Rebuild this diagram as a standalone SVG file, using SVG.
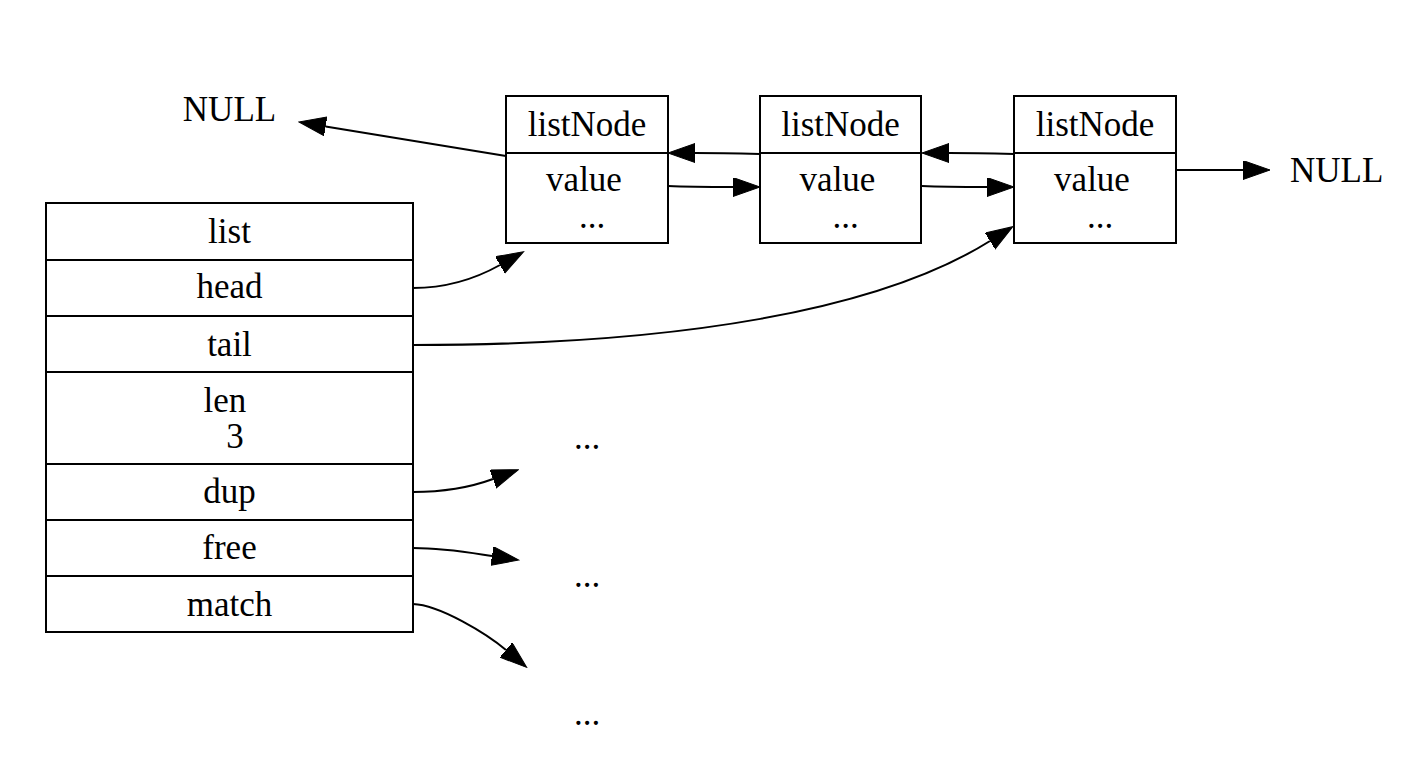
<svg xmlns="http://www.w3.org/2000/svg" width="1418" height="776" viewBox="0 0 1418 776">
<style>
  .box { fill: #ffffff; stroke: #000000; stroke-width: 2; }
  .div { stroke: #000000; stroke-width: 2; fill: none; }
  .t { font-family: "Liberation Serif", "Times New Roman", serif; font-size: 35px; fill: #000000; text-anchor: middle; }
  .tl { font-family: "Liberation Serif", "Times New Roman", serif; font-size: 35px; fill: #000000; text-anchor: start; }
  .edge { fill: none; stroke: #000000; stroke-width: 2; marker-end: url(#arrow); }
</style>
<defs>
  <marker id="arrow" markerUnits="userSpaceOnUse" markerWidth="28" markerHeight="20" refX="0" refY="9.5" orient="auto" viewBox="0 0 28 20">
    <path d="M0,0 L27,9.5 L0,19 Z" fill="#000000" stroke="#000000" stroke-width="1"/>
  </marker>
</defs>
<rect x="0" y="0" width="1418" height="776" fill="#ffffff"/>

<g id="list">
  <rect class="box" x="46" y="203" width="367" height="429"/>
  <line class="div" x1="46" y1="260" x2="413" y2="260"/>
  <line class="div" x1="46" y1="316" x2="413" y2="316"/>
  <line class="div" x1="46" y1="372" x2="413" y2="372"/>
  <line class="div" x1="46" y1="464" x2="413" y2="464"/>
  <line class="div" x1="46" y1="520" x2="413" y2="520"/>
  <line class="div" x1="46" y1="576" x2="413" y2="576"/>
  <text class="t" x="229.5" y="243">list</text>
  <text class="t" x="229.5" y="298">head</text>
  <text class="t" x="229.5" y="356">tail</text>
  <text class="t" x="225" y="412">len</text>
  <text class="t" x="235" y="448">3</text>
  <text class="t" x="229.5" y="503">dup</text>
  <text class="t" x="229.5" y="559">free</text>
  <text class="t" x="229.5" y="616">match</text>
</g>

<g id="node1">
  <rect class="box" x="506" y="96" width="162" height="147"/>
  <line class="div" x1="506" y1="153" x2="668" y2="153"/>
  <text class="t" x="587" y="136">listNode</text>
  <text class="t" x="584" y="191">value</text>
  <text class="t" x="592" y="228">...</text>
</g>

<g id="node2">
  <rect class="box" x="760" y="96" width="161" height="147"/>
  <line class="div" x1="760" y1="153" x2="921" y2="153"/>
  <text class="t" x="840.5" y="136">listNode</text>
  <text class="t" x="837.5" y="191">value</text>
  <text class="t" x="845.5" y="228">...</text>
</g>

<g id="node3">
  <rect class="box" x="1014" y="96" width="162" height="147"/>
  <line class="div" x1="1014" y1="153" x2="1176" y2="153"/>
  <text class="t" x="1095" y="136">listNode</text>
  <text class="t" x="1092" y="191">value</text>
  <text class="t" x="1100" y="228">...</text>
</g>

<g id="null-left">
  <text class="t" x="229.5" y="121">NULL</text>
</g>
<g id="null-right">
  <text class="tl" x="1290" y="182">NULL</text>
</g>
<g id="dots1"><text class="t" x="587" y="449">...</text></g>
<g id="dots2"><text class="t" x="587" y="587">...</text></g>
<g id="dots3"><text class="t" x="587" y="725">...</text></g>

<g id="connectors">
  <path class="edge" d="M506,156 L325.6,126.4"/>
  <path class="edge" d="M760,154 C740,153.5 718,153 695,153"/>
  <path class="edge" d="M1014,154 C994,153.5 972,153 949,153"/>
  <path class="edge" d="M668,186 C690,187 710,187 733,187"/>
  <path class="edge" d="M922,186 C944,187 964,187 987,187"/>
  <path class="edge" d="M1176,170 L1243,170"/>
  <path class="edge" d="M413,288 C445,288 475,279 500,265"/>
  <path class="edge" d="M413,345 C680,345 880,310 990,241"/>
  <path class="edge" d="M413,492 C445,492 474,486 493,479"/>
  <path class="edge" d="M413,548 C445,548 472,553 492,556"/>
  <path class="edge" d="M413,604 C440,605 487,634 506,650"/>
</g>
</svg>
